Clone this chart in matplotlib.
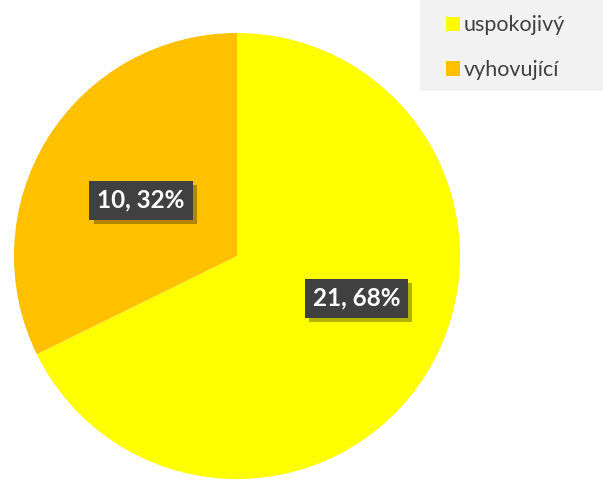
import matplotlib
matplotlib.use('Agg')
from matplotlib import pyplot as plt
from matplotlib import patheffects
from matplotlib.patches import Rectangle

plt.rcParams['font.family'] = ['Lato', 'DejaVu Sans']

categories = ['uspokojivý', 'vyhovující']
counts = [21, 10]
colors = ['#FFFF00', '#FFC000']
label_pos = [(0.535, -0.19), (-0.43, 0.25)]

fig = plt.figure(figsize=(6.03, 4.80), dpi=100)

# pie area: center (237, 256) px, radius 223 px
ax = fig.add_axes([14 / 603, 1 / 480, 446 / 603, 446 / 480])
wedges, _ = ax.pie(counts, colors=colors, startangle=90, counterclock=False,
                   radius=1, wedgeprops=dict(linewidth=0))
ax.set_xlim(-1, 1)
ax.set_ylim(-1, 1)
ax.set_aspect('equal')
ax.axis('off')

total = sum(counts)
for n, (x, y) in zip(counts, label_pos):
    t = ax.text(x, y, f'{n}, {round(n / total * 100)}%', ha='center', va='center',
                color='white', fontsize=17.5, fontweight='bold',
                bbox=dict(boxstyle='square,pad=0.33', facecolor='#404040', edgecolor='none'))
    t.get_bbox_patch().set_path_effects([
        patheffects.SimplePatchShadow(offset=(3, -3), shadow_rgbFace='black', alpha=0.3),
        patheffects.Normal()])

# legend background
fig.patches.append(Rectangle((420 / 603, 1 - 91 / 480), 183 / 603, 91 / 480,
                             transform=fig.transFigure, facecolor='#f2f2f2',
                             edgecolor='none', zorder=0))
leg = fig.legend(wedges, categories, loc='upper left',
                 bbox_to_anchor=(427 / 603, 1 + 4 / 480), frameon=False,
                 fontsize=15.5, labelcolor='#404040', handlelength=0.65,
                 handleheight=0.65, handletextpad=0.15, labelspacing=1.15)

fig.savefig('out.png', dpi=100)
